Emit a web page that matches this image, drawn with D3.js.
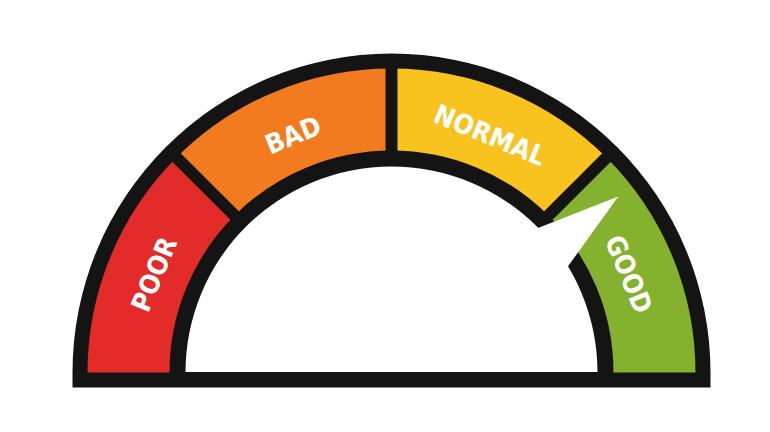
<!DOCTYPE html>
<html>
<head>
<meta charset="utf-8">
<script src="https://cdn.jsdelivr.net/npm/d3@7"></script>
<style>
  html, body { margin: 0; padding: 0; background: #ffffff; }
  svg { display: block; }
</style>
</head>
<body>
<svg id="chart" width="770" height="432"></svg>
<script>
// ---- data ----
const categories = ["POOR", "BAD", "NORMAL", "GOOD"];
const bandSizes = [25, 25, 25, 25];
const needleValue = 79;
const scaleDomain = [0, 100];

// ---- styles ----
const palette = ["#e32b2a", "#f37b1f", "#f8c31e", "#84b12e"];
const ink = "#141414";

const W = 770, H = 432;
const cx = 391.5, cy = 372.5;
const rOuter = 319, rInner = 206;
const bandOuter = 304, bandInner = 222;
const barH = 15;
const sepWidth = 12;

const svg = d3.select("#chart");
const g = svg.append("g").attr("transform", `translate(${cx},${cy})`);

const angle = d3.scaleLinear().domain(scaleDomain).range([-Math.PI / 2, Math.PI / 2]);

// band boundaries from cumulative sizes
const cum = d3.cumsum(bandSizes);
const bands = categories.map((c, i) => ({
  label: c,
  color: palette[i],
  start: i === 0 ? scaleDomain[0] : cum[i - 1],
  end: cum[i]
}));

// outer black frame
g.append("path")
  .attr("d", d3.arc()({ innerRadius: rInner, outerRadius: rOuter, startAngle: angle(scaleDomain[0]), endAngle: angle(scaleDomain[1]) }))
  .attr("fill", ink);
g.append("rect")
  .attr("x", -rOuter).attr("y", -0.5)
  .attr("width", rOuter * 2).attr("height", barH + 0.5)
  .attr("fill", ink);

// colored bands
const bandArc = d3.arc().innerRadius(bandInner).outerRadius(bandOuter);
g.selectAll("path.band").data(bands).join("path")
  .attr("class", "band")
  .attr("d", d => bandArc({ startAngle: angle(d.start), endAngle: angle(d.end) }))
  .attr("fill", d => d.color);

// separators
g.selectAll("line.sep").data(bands.slice(1)).join("line")
  .attr("class", "sep")
  .attr("x1", d => (bandInner - 4) * Math.sin(angle(d.start)))
  .attr("y1", d => -(bandInner - 4) * Math.cos(angle(d.start)))
  .attr("x2", d => (bandOuter + 4) * Math.sin(angle(d.start)))
  .attr("y2", d => -(bandOuter + 4) * Math.cos(angle(d.start)))
  .attr("stroke", ink)
  .attr("stroke-width", sepWidth);

// labels
const labelR = 257;
g.selectAll("text.lbl").data(bands).join("text")
  .attr("class", "lbl")
  .attr("transform", d => {
    const a = angle((d.start + d.end) / 2);
    const x = labelR * Math.sin(a), y = -labelR * Math.cos(a);
    return `translate(${x},${y}) rotate(${a * 180 / Math.PI})`;
  })
  .attr("text-anchor", "middle")
  .attr("dominant-baseline", "central")
  .attr("font-family", "'DejaVu Sans Condensed', 'DejaVu Sans', sans-serif")
  .attr("font-stretch", "condensed")
  .attr("font-weight", "bold")
  .attr("font-size", 27)
  .attr("fill", "#ffffff")
  .text(d => d.label);

// needle (white pointer)
const tipR = 287, baseR = 120, halfAngle = 16.4 * Math.PI / 180;
const na = angle(needleValue);
const ux = Math.sin(na), uy = -Math.cos(na);   // outward direction
const px = Math.cos(na), py = Math.sin(na);    // perpendicular
const half = (tipR - baseR) * Math.tan(halfAngle);
const needlePts = [
  [tipR * ux, tipR * uy],
  [baseR * ux + half * px, baseR * uy + half * py],
  [baseR * ux - half * px, baseR * uy - half * py]
];
g.append("path")
  .attr("d", d3.line()(needlePts) + "Z")
  .attr("fill", "#ffffff");
</script>
</body>
</html>
